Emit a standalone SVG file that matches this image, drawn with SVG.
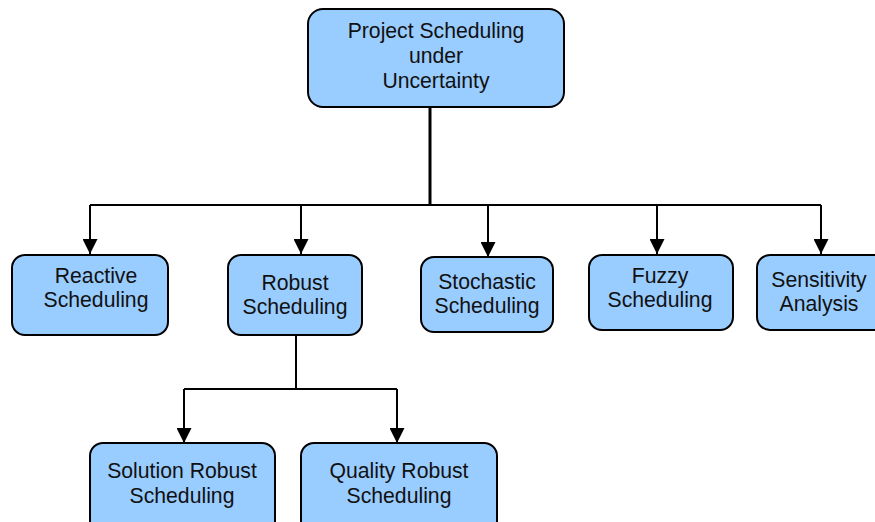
<svg xmlns="http://www.w3.org/2000/svg" width="875" height="522" viewBox="0 0 875 522">
<style>
.node rect{fill:#99CCFF;stroke:#000;stroke-width:2}
.node text{font-family:"Liberation Sans",Arial,sans-serif;font-size:21.2px;fill:#111;text-anchor:middle}
.conn{fill:none;stroke:#000;stroke-width:2}
</style>
<defs>
<marker id="ah" markerUnits="userSpaceOnUse" markerWidth="15" markerHeight="15" viewBox="0 0 15 15" refX="15" refY="7.5" orient="auto">
<path d="M0,0 L15,7.5 L0,15 Z" fill="#000"/>
</marker>
</defs>
<g id="connectors">
<path class="conn" d="M430,107 V205" style="stroke-width:3"/>
<path class="conn" d="M90,205 H821"/>
<path class="conn" d="M90,205 V254" marker-end="url(#ah)"/>
<path class="conn" d="M301,205 V254" marker-end="url(#ah)"/>
<path class="conn" d="M488,205 V257" marker-end="url(#ah)"/>
<path class="conn" d="M657,205 V254" marker-end="url(#ah)"/>
<path class="conn" d="M821,205 V254" marker-end="url(#ah)"/>
<path class="conn" d="M296,336 V389 M184,389 H397"/>
<path class="conn" d="M184,389 V443" marker-end="url(#ah)"/>
<path class="conn" d="M397,389 V443" marker-end="url(#ah)"/>
</g>
<g id="root" class="node">
<rect x="308" y="9" width="256" height="98" rx="15"/>
<text x="436" y="38">Project Scheduling</text>
<text x="436" y="63">under</text>
<text x="436" y="88">Uncertainty</text>
</g>
<g id="reactive" class="node">
<rect x="12" y="255" width="156" height="80" rx="13"/>
<text x="96" y="283">Reactive</text>
<text x="96" y="307">Scheduling</text>
</g>
<g id="robust" class="node">
<rect x="228" y="255" width="134" height="80" rx="13"/>
<text x="295" y="290">Robust</text>
<text x="295" y="314">Scheduling</text>
</g>
<g id="stochastic" class="node">
<rect x="421" y="257" width="132" height="75" rx="13"/>
<text x="487" y="289">Stochastic</text>
<text x="487" y="313">Scheduling</text>
</g>
<g id="fuzzy" class="node">
<rect x="589" y="255" width="144" height="75" rx="13"/>
<text x="660" y="283">Fuzzy</text>
<text x="660" y="307">Scheduling</text>
</g>
<g id="sensitivity" class="node">
<rect x="757" y="255" width="130" height="75" rx="13"/>
<text x="819" y="287">Sensitivity</text>
<text x="819" y="311">Analysis</text>
</g>
<g id="solution" class="node">
<rect x="90" y="443" width="185" height="95" rx="13"/>
<text x="182" y="478">Solution Robust</text>
<text x="182" y="503">Scheduling</text>
</g>
<g id="quality" class="node">
<rect x="301" y="443" width="196" height="95" rx="13"/>
<text x="399" y="478">Quality Robust</text>
<text x="399" y="503">Scheduling</text>
</g>
</svg>
